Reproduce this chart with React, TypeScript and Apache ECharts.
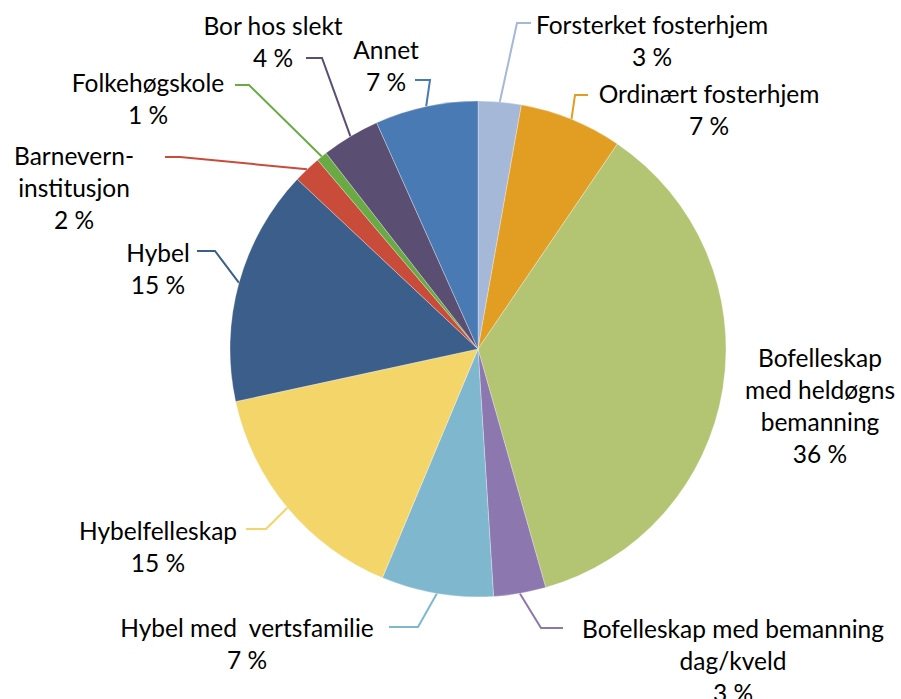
import { useEffect, useRef } from 'react';
import * as echarts from 'echarts';

const categories = [
  'Forsterket fosterhjem',
  'Ordinært fosterhjem',
  'Bofelleskap med heldøgns bemanning',
  'Bofelleskap med bemanning dag/kveld',
  'Hybel med  vertsfamilie',
  'Hybelfelleskap',
  'Hybel',
  'Barnevernsinstitusjon',
  'Folkehøgskole',
  'Bor hos slekt',
  'Annet',
];

const labelNames = [
  'Forsterket fosterhjem',
  'Ordinært fosterhjem',
  'Bofelleskap\nmed heldøgns\nbemanning',
  'Bofelleskap med bemanning\ndag/kveld',
  'Hybel med  vertsfamilie',
  'Hybelfelleskap',
  'Hybel',
  'Barnevern-\ninstitusjon',
  'Folkehøgskole',
  'Bor hos slekt',
  'Annet',
];

const values = [2.8, 6.7, 36.1, 3.4, 7.3, 15.3, 15.4, 1.8, 0.7, 3.8, 6.7];

const colors = [
  '#A6B8D8', '#E29E22', '#B3C473', '#8C78AE', '#7FB7CF', '#F3D56A',
  '#3B5E8B', '#C94B3A', '#6AAA44', '#5A4E72', '#4A7AB3',
];

// layout: label block centre and leader-line elbow / end points
const CX = 478;
const CY = 349;
const R = 248;
const labelCenters: number[][] = [
  [652, 40], [709, 109], [820, 405], [733, 660], [247, 643], [158, 546],
  [158, 268], [74, 187], [148, 98], [273, 41], [386, 65],
];
const leaderBends: number[][][] = [
  [[517, 23], [531, 23]],
  [[575, 95], [588, 95]],
  [[760, 380], [760, 380]],
  [[541, 628], [563, 628]],
  [[418, 627], [389, 627]],
  [[266, 529], [246, 529]],
  [[215, 251], [197, 251]],
  [[180, 157], [165, 157]],
  [[249, 85], [235, 85]],
  [[322, 58], [306, 58]],
  [[430, 80], [415, 80]],
];

export default function App() {
  const ref = useRef<HTMLDivElement>(null);
  useEffect(() => {
    if (!ref.current) return;
    const chart = echarts.init(ref.current, undefined, { renderer: 'svg' });
    const total = values.reduce((a, b) => a + b, 0);
    const mids: number[] = [];
    let acc = 0;
    values.forEach((v) => {
      mids.push(((acc + v / 2) / total) * Math.PI * 2);
      acc += v;
    });
    chart.setOption({
      animation: false,
      backgroundColor: '#ffffff',
      series: [
        {
          type: 'pie',
          center: [CX, CY],
          radius: R,
          startAngle: 90,
          clockwise: true,
          avoidLabelOverlap: false,
          itemStyle: { borderColor: '#ffffff', borderWidth: 0.3 },
          label: {
            show: true,
            position: 'outer',
            color: '#000000',
            fontFamily: 'Lato',
            fontSize: 24.5,
            lineHeight: 32,
            align: 'center',
            formatter: (p: any) => `${labelNames[p.dataIndex]}\n${Math.round(p.percent)} %`,
          },
          labelLine: { show: true, smooth: false, lineStyle: { width: 2 } },
          labelLayout: (p: any) => {
            const i = p.dataIndex;
            const a = mids[i];
            const start = [CX + R * Math.sin(a), CY - R * Math.cos(a)];
            return {
              x: labelCenters[i][0],
              y: labelCenters[i][1],
              align: 'center',
              verticalAlign: 'middle',
              labelLinePoints: [start, leaderBends[i][0], leaderBends[i][1]],
            };
          },
          data: categories.map((name, i) => ({
            name,
            value: values[i],
            itemStyle: { color: colors[i] },
            labelLine: { show: i !== 2 },
          })),
        },
      ],
    });
    return () => chart.dispose();
  }, []);
  return (
    <div
      ref={ref}
      style={{ position: 'fixed', left: 0, top: 0, width: 901, height: 699 }}
    />
  );
}
